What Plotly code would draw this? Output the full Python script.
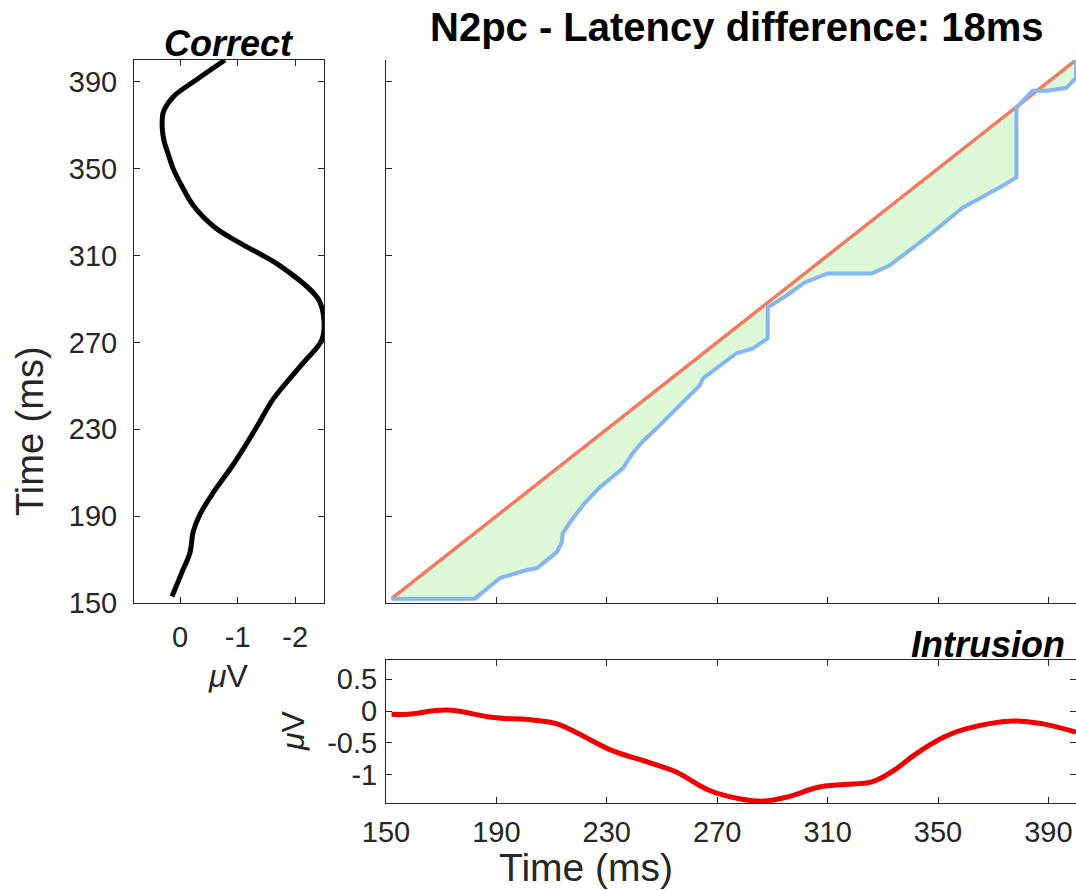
import plotly.graph_objects as go

# ---- data ----
time_ticks = [150, 190, 230, 270, 310, 350, 390]
time_tick_labels = ["150", "190", "230", "270", "310", "350", "390"]
uv_ticks_correct = [0, -1, -2]
uv_tick_labels_correct = ["0", "-1", "-2"]
uv_ticks_intr = [-1, -0.5, 0, 0.5]
uv_tick_labels_intr = ["-1", "-0.5", "0", "0.5"]

correct_time = [153, 164, 173, 183, 191, 201, 214, 231, 244, 260, 271, 280, 290,
                305, 316, 323, 333, 342, 350, 357, 363, 369, 376, 383, 391, 400]
correct_uv = [0.14, -0.03, -0.17, -0.23, -0.35, -0.58, -0.93, -1.33, -1.62, -2.12,
              -2.46, -2.50, -2.40, -1.75, -1.02, -0.60, -0.23, -0.03, 0.12,
              0.21, 0.28, 0.31, 0.29, 0.12, -0.29, -0.78]

intr_time = [152, 158, 172, 189, 203, 212, 220, 232, 245, 255, 267, 279, 287, 295,
             307, 316, 326, 334, 342, 352, 360, 377, 388, 400]
intr_uv = [-0.05, -0.05, 0.015, -0.10, -0.14, -0.20, -0.36, -0.62, -0.80, -0.95,
           -1.24, -1.38, -1.41, -1.35, -1.19, -1.15, -1.11, -0.93, -0.67, -0.41,
           -0.28, -0.155, -0.20, -0.33]

diag_x = [152, 400]
diag_y = [152, 400]

path_x = [152, 182.2, 191.3, 194.9, 201.0, 204.7, 211.9, 213.7, 214.0, 217.7, 222.0,
          227.5, 235.8, 239.4, 242.7, 248.1, 257.5, 263.7, 264.8, 277.0, 282.9, 288.3,
          288.3, 295.2, 301.7, 310.0, 326.0, 332.4, 345.8, 358.9, 372.3, 378.4, 378.4,
          384.2, 389.3, 396.5, 400, 400]
path_y = [152, 152, 161.5, 162.9, 165.2, 166.1, 173.4, 178.0, 182.0, 189.0, 196.0,
          203.3, 212.0, 219.0, 224.0, 230.5, 242.0, 250.2, 253.4, 265.0, 267.2, 271.8,
          286.0, 291.6, 297.6, 301.7, 301.7, 305.4, 318.3, 332.0, 341.3, 345.9, 378.0,
          385.9, 385.9, 387.2, 391.8, 400]

W, H = 1076, 890
AX = "#262626"
FONT = "Liberation Sans, Arial, Helvetica, sans-serif"


def px(x):
    return x / W


def py(y):
    return 1 - y / H


fig = go.Figure()

# left panel: Correct
fig.add_trace(go.Scatter(x=correct_uv, y=correct_time, mode="lines",
                         line=dict(color="black", width=5, shape="spline", smoothing=1.0),
                         xaxis="x", yaxis="y", showlegend=False))

# main panel: fill between diagonal and warping path
fill_x = diag_x + path_x[::-1]
fill_y = diag_y + path_y[::-1]
fig.add_trace(go.Scatter(x=fill_x, y=fill_y, mode="none", fill="toself",
                         fillcolor="rgb(222,249,215)", xaxis="x2", yaxis="y2",
                         showlegend=False, hoverinfo="skip"))
fig.add_trace(go.Scatter(x=diag_x, y=diag_y, mode="lines",
                         line=dict(color="rgb(240,122,98)", width=3.5),
                         xaxis="x2", yaxis="y2", showlegend=False))
fig.add_trace(go.Scatter(x=path_x, y=path_y, mode="lines",
                         line=dict(color="rgb(132,182,240)", width=4),
                         xaxis="x2", yaxis="y2", showlegend=False))

# bottom panel: Intrusion
fig.add_trace(go.Scatter(x=intr_time, y=intr_uv, mode="lines",
                         line=dict(color="rgb(240,0,0)", width=5, shape="spline"),
                         xaxis="x3", yaxis="y3", showlegend=False))

tickfont = dict(family=FONT, size=29, color=AX)
common = dict(showgrid=False, zeroline=False, showline=True, linecolor=AX,
              linewidth=1, ticks="inside", ticklen=6, tickcolor=AX, tickwidth=1,
              tickfont=tickfont, automargin=False)

fig.update_layout(
    width=W, height=H, margin=dict(l=0, r=0, t=0, b=0, autoexpand=False),
    paper_bgcolor="white", plot_bgcolor="white",
    xaxis=dict(domain=[px(134), px(324)], range=[0.8, -2.5], anchor="y",
               tickvals=uv_ticks_correct, ticktext=uv_tick_labels_correct,
               mirror="ticks", ticklabelstandoff=8, **common),
    yaxis=dict(domain=[py(603), py(60)], range=[150, 400], anchor="x",
               tickvals=time_ticks, ticktext=time_tick_labels,
               mirror="ticks", ticklabelstandoff=10, **common),
    xaxis2=dict(domain=[px(386), 1], range=[150, 400], anchor="y2",
                tickvals=time_ticks, showticklabels=False, **common),
    yaxis2=dict(domain=[py(603), py(60)], range=[150, 400], anchor="x2",
                tickvals=time_ticks, showticklabels=False, **common),
    xaxis3=dict(domain=[px(386), 1], range=[150, 400], anchor="y3",
                tickvals=time_ticks, ticktext=time_tick_labels,
                mirror="ticks", ticklabelstandoff=3, **common),
    yaxis3=dict(domain=[py(803), py(660)], range=[-1.44, 0.8], anchor="x3",
                tickvals=uv_ticks_intr, ticktext=uv_tick_labels_intr,
                mirror="ticks", ticklabelstandoff=2, **common),
)

ann = [
    dict(text="<b>N2pc - Latency difference: 18ms</b>", x=px(737), y=py(27),
         font=dict(family=FONT, size=40, color="black")),
    dict(text="<b><i>Correct</i></b>", x=px(229), y=py(44),
         font=dict(family=FONT, size=36, color="black")),
    dict(text="<b><i>Intrusion</i></b>", x=px(1067), y=py(644), xanchor="right",
         font=dict(family=FONT, size=36, color="black")),
    dict(text="Time (ms)", x=px(30), y=py(431), textangle=-90,
         font=dict(family=FONT, size=38, color=AX)),
    dict(text="Time (ms)", x=px(586), y=py(867),
         font=dict(family=FONT, size=39, color=AX)),
    dict(text="<i>μ</i>V", x=px(228), y=py(676),
         font=dict(family=FONT, size=32, color=AX)),
    dict(text="<i>μ</i>V", x=px(293), y=py(731), textangle=-90,
         font=dict(family=FONT, size=32, color=AX)),
]
for a in ann:
    a.setdefault("xanchor", "center")
    a.update(xref="paper", yref="paper", yanchor="middle", showarrow=False)
fig.update_layout(annotations=ann)

fig.write_html("out.html")
